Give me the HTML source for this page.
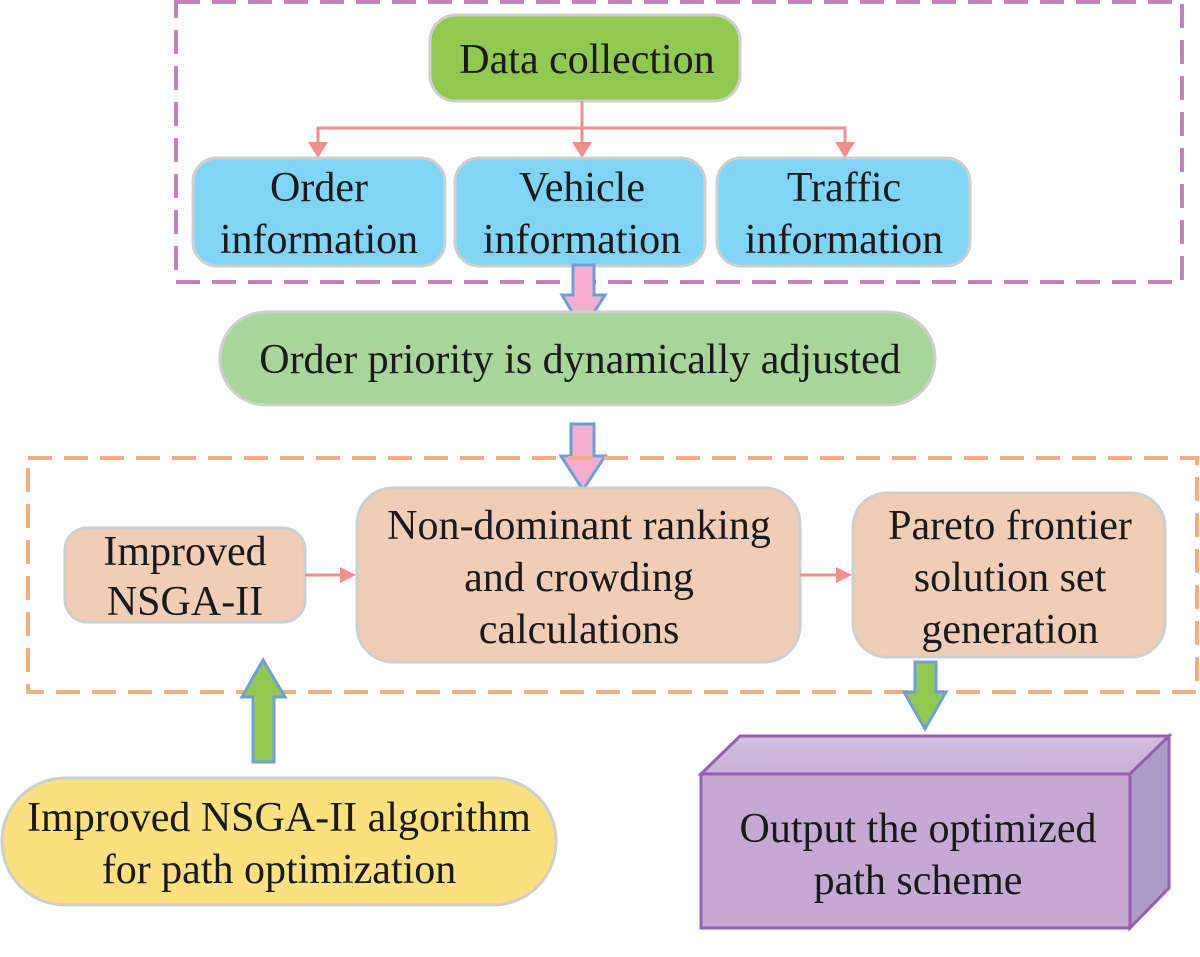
<!DOCTYPE html>
<html><head><meta charset="utf-8"><style>
html,body{margin:0;padding:0;background:#fff;}
svg{display:block;}
text{font-family:"Liberation Serif",serif;font-size:42px;fill:#1a1a1a;text-anchor:middle;}
</style></head><body>
<svg width="1200" height="957" viewBox="0 0 1200 957" xmlns="http://www.w3.org/2000/svg">
<defs>
<linearGradient id="tg" x1="0" y1="0" x2="0" y2="1"><stop offset="0" stop-color="#d3bde0"/><stop offset="1" stop-color="#c9b0d8"/></linearGradient>
</defs>
<rect x="176" y="2" width="1006" height="280" fill="none" stroke="#c47fbd" stroke-width="4" stroke-dasharray="24,12"/>
<rect x="430" y="15" width="310" height="86" rx="26" fill="#92c850" stroke="#cfcfcf" stroke-width="3"/>
<text x="587" y="73">Data collection</text>
<g stroke="#f08f8f" stroke-width="3" fill="none">
<line x1="582" y1="101" x2="582" y2="146"/>
<polyline points="318,146 318,128 845,128 845,146"/>
</g>
<g fill="#f08f8f">
<polygon points="308,142 328,142 318,158"/>
<polygon points="572,142 592,142 582,158"/>
<polygon points="835,142 855,142 845,158"/>
</g>
<rect x="193" y="158" width="252" height="108" rx="24" fill="#80d4f4" stroke="#cfcfcf" stroke-width="3"/>
<text x="319" y="201">Order</text><text x="319" y="253">information</text>
<rect x="455" y="158" width="250" height="108" rx="24" fill="#80d4f4" stroke="#cfcfcf" stroke-width="3"/>
<text x="582" y="201">Vehicle</text><text x="582" y="253">information</text>
<rect x="717" y="158" width="253" height="108" rx="24" fill="#80d4f4" stroke="#cfcfcf" stroke-width="3"/>
<text x="844" y="201">Traffic</text><text x="844" y="253">information</text>
<polygon points="573,265 594,265 594,295 605,295 583,330 562,295 573,295" fill="#f4afd0" stroke="#6f9fd8" stroke-width="3"/>
<rect x="220" y="312" width="715" height="93" rx="46" fill="#a8d59a" stroke="#cfcfcf" stroke-width="3"/>
<text x="580" y="373">Order priority is dynamically adjusted</text>
<polygon points="571,424 594,424 594,456 605,456 583,490 561,456 571,456" fill="#f4afd0" stroke="#6f9fd8" stroke-width="3"/>
<rect x="28" y="458" width="1169" height="234" fill="none" stroke="#f4ad80" stroke-width="4" stroke-dasharray="24,12"/>
<rect x="65" y="528" width="240" height="94" rx="22" fill="#efcdb6" stroke="#cfcfcf" stroke-width="3"/>
<text x="185" y="565">Improved</text><text x="185" y="615">NSGA-II</text>
<rect x="357" y="488" width="443" height="174" rx="36" fill="#efcdb6" stroke="#cfcfcf" stroke-width="3"/>
<text x="579" y="539">Non-dominant ranking</text><text x="579" y="591">and crowding</text><text x="579" y="643">calculations</text>
<rect x="853" y="493" width="312" height="164" rx="34" fill="#efcdb6" stroke="#cfcfcf" stroke-width="3"/>
<text x="1010" y="539">Pareto frontier</text><text x="1010" y="591">solution set</text><text x="1010" y="643">generation</text>
<line x1="305" y1="575" x2="342" y2="575" stroke="#f08f8f" stroke-width="3"/>
<polygon points="340,567 356,575 340,583" fill="#f08f8f"/>
<line x1="800" y1="575" x2="838" y2="575" stroke="#f08f8f" stroke-width="3"/>
<polygon points="836,567 852,575 836,583" fill="#f08f8f"/>
<polygon points="253,762 274,762 274,697 285,697 263,660 242,697 253,697" fill="#92c850" stroke="#6f9fd8" stroke-width="3"/>
<rect x="2" y="778" width="554" height="127" rx="63" fill="#fbe07f" stroke="#cfcfcf" stroke-width="3"/>
<text x="279" y="831">Improved NSGA-II algorithm</text><text x="279" y="883">for path optimization</text>
<polygon points="915,662 936,662 936,692 946,692 925,729 904,692 915,692" fill="#92c850" stroke="#6f9fd8" stroke-width="3"/>
<polygon points="701,774 740,736 1169,736 1130,774" fill="url(#tg)" stroke="#9660b0" stroke-width="3"/>
<polygon points="1130,774 1169,736 1169,888 1130,928" fill="#ae9cc8" stroke="#9660b0" stroke-width="3"/>
<rect x="701" y="774" width="429" height="154" fill="#c5a9d3" stroke="#9660b0" stroke-width="3"/>
<text x="918" y="842">Output the optimized</text><text x="918" y="894">path scheme</text>
</svg>
</body></html>
